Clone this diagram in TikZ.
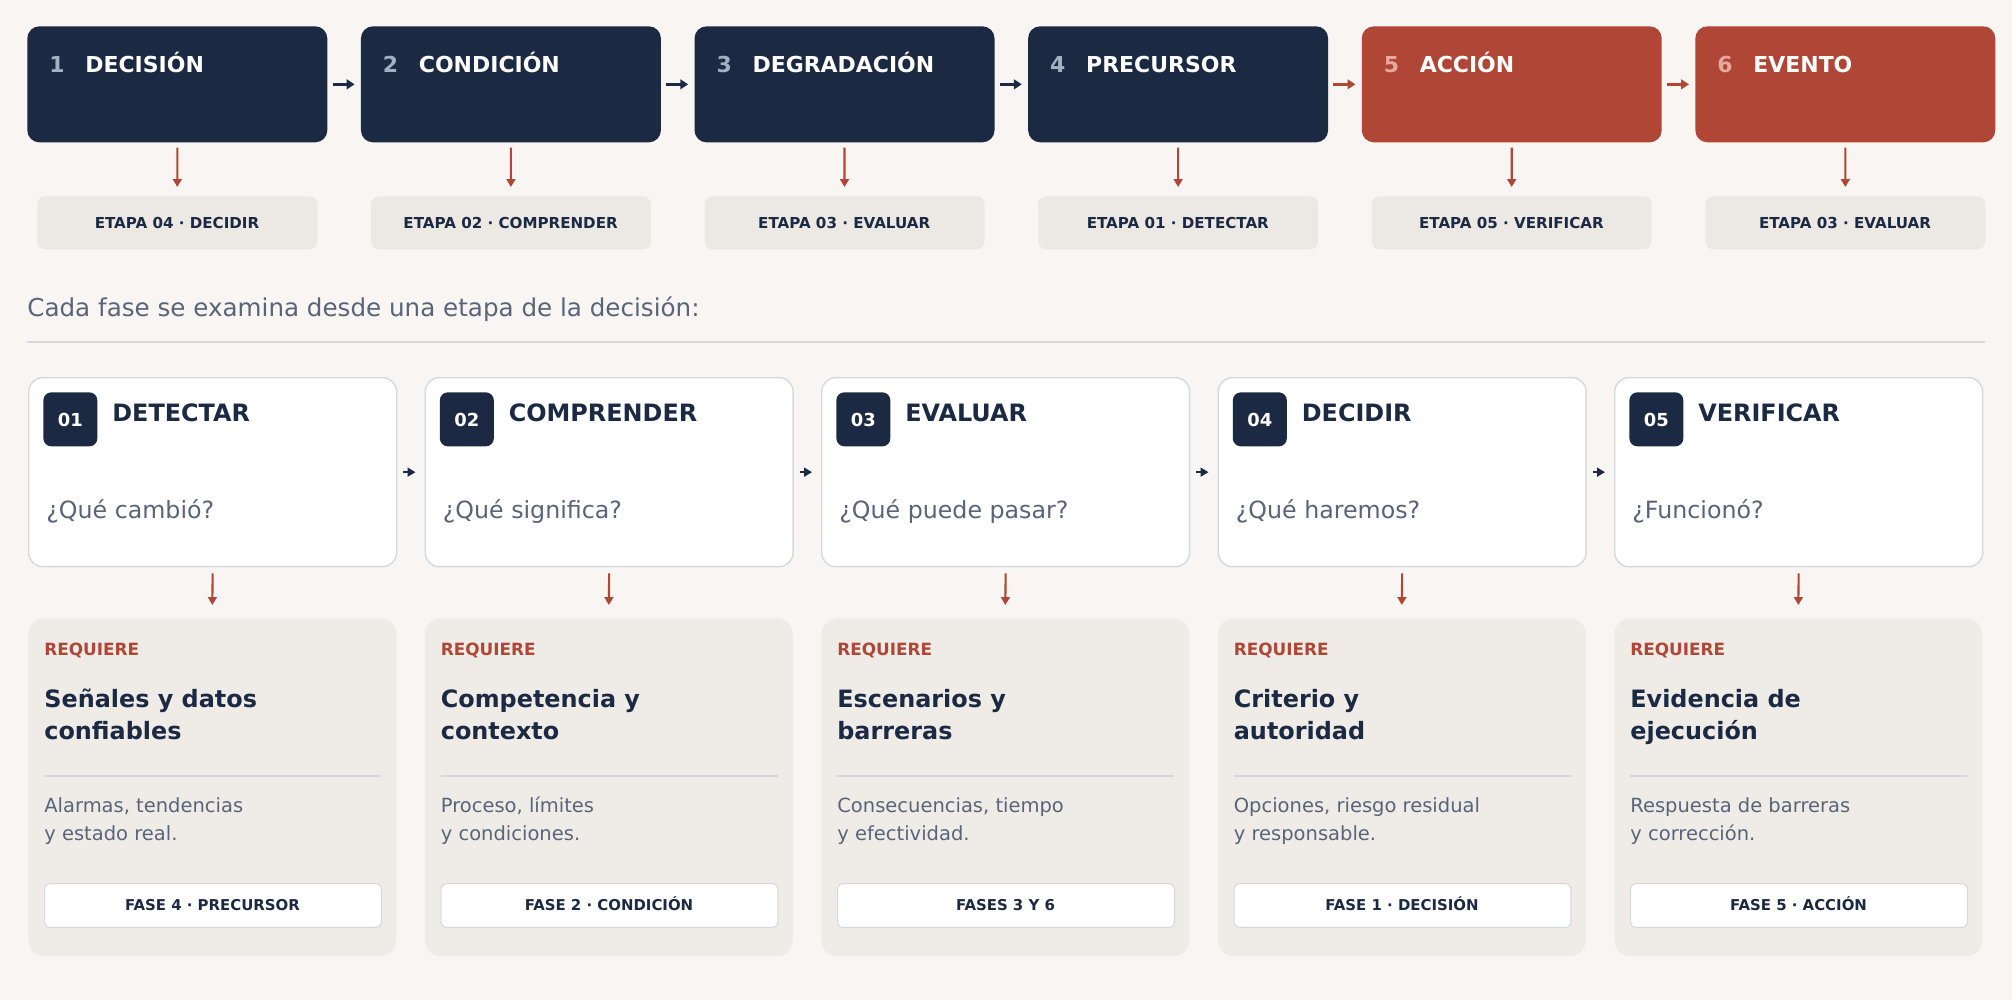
\documentclass[tikz,border=0pt]{standalone}
\usepackage{fontspec}
\setmainfont{DejaVu Sans}
\usepackage{tikz}
\usetikzlibrary{arrows.meta}

\definecolor{ozadje}{HTML}{F8F5F2}
\definecolor{temna}{HTML}{1B2942}
\definecolor{rdeca}{HTML}{AF4636}
\definecolor{siva}{HTML}{5A6478}
\definecolor{svetla}{HTML}{ECE9E5}
\definecolor{kartica}{HTML}{EFECE8}
\definecolor{crta}{HTML}{D5D9DF}
\definecolor{stmodra}{HTML}{A3B0C2}
\definecolor{strdeca}{HTML}{E6A99D}

\tikzset{
  faza/.style={rectangle, rounded corners=0.24cm, minimum width=6cm, minimum height=2.32cm, anchor=north west, inner sep=0},
  etapa/.style={rectangle, rounded corners=0.16cm, fill=svetla, minimum width=5.6cm, minimum height=1.06cm, anchor=north west, inner sep=0},
  besedilo/.style={inner sep=0, anchor=base west},
  kvadrat/.style={rectangle, rounded corners=0.28cm, fill=white, draw=crta, line width=0.8pt, minimum width=7.36cm, minimum height=3.78cm, anchor=north west, inner sep=0},
  znacka/.style={rectangle, rounded corners=0.16cm, fill=temna, minimum size=1.08cm, anchor=north west, inner sep=0},
  podlaga/.style={rectangle, rounded corners=0.32cm, fill=kartica, minimum width=7.36cm, minimum height=6.76cm, anchor=north west, inner sep=0},
  oznaka/.style={rectangle, rounded corners=0.12cm, fill=white, draw=crta, line width=0.6pt, minimum width=6.74cm, minimum height=0.88cm, anchor=north west, inner sep=0},
  puscica/.style={line width=1.4pt, -{Triangle[length=4.5pt, width=5.5pt]}},
  navzdol/.style={rdeca, line width=1.2pt, -{Triangle[length=4.5pt, width=5pt]}},
  mala/.style={temna, line width=1.2pt, -{Triangle[length=4.5pt, width=5pt]}}
}

\begin{document}
\begin{tikzpicture}[x=0.02cm, y=-0.02cm]

  \fill[ozadje] (0,0) rectangle (2012,1000); %OZADJE

  % faze zgoraj
  \foreach \i/\ime/\barva/\stb/\et in {1/DECISIÓN/temna/stmodra/ETAPA 04 · DECIDIR,
      2/CONDICIÓN/temna/stmodra/ETAPA 02 · COMPRENDER,
      3/DEGRADACIÓN/temna/stmodra/ETAPA 03 · EVALUAR,
      4/PRECURSOR/temna/stmodra/ETAPA 01 · DETECTAR,
      5/ACCIÓN/rdeca/strdeca/ETAPA 05 · VERIFICAR,
      6/EVENTO/rdeca/strdeca/ETAPA 03 · EVALUAR}
  {
    \pgfmathsetmacro{\x}{27+333.6*(\i-1)}
    \node[faza, fill=\barva] (f\i) at (\x,26) {};
    \node[besedilo, text=\stb, font=\fontsize{12.5}{15}\selectfont\bfseries] (fn\i) at (\x+22,72.5) {\i};
    \node[besedilo, text=white, font=\fontsize{12.5}{15}\selectfont\bfseries] (ft\i) at (\x+58,72.5) {\ime};
    \node[etapa] (e\i) at (\x+10,196) {};
    \node[inner sep=0, anchor=base, text=temna, font=\fontsize{8.6}{10}\selectfont\bfseries] (et\i) at (\x+150,228.5) {\et};
    \draw[navzdol] ([yshift=-0.1cm]f\i.south) -- ([yshift=0.18cm]e\i.north); %DOL
  }

  \draw[puscica, temna] ([xshift=0.1cm]f1.east) -- ([xshift=-0.12cm]f2.west);
  \draw[puscica, temna] ([xshift=0.1cm]f2.east) -- ([xshift=-0.12cm]f3.west);
  \draw[puscica, temna] ([xshift=0.1cm]f3.east) -- ([xshift=-0.12cm]f4.west);
  \draw[puscica, rdeca] ([xshift=0.1cm]f4.east) -- ([xshift=-0.12cm]f5.west);
  \draw[puscica, rdeca] ([xshift=0.1cm]f5.east) -- ([xshift=-0.12cm]f6.west);

  \node[besedilo, text=siva, font=\fontsize{14}{17}\selectfont] (uvod) at (27,316.5) {Cada fase se examina desde una etapa de la decisión:};
  \draw[crta, line width=1.1pt] (27,342) -- (1985,342); %CRTA

  % etape spodaj
  \foreach \i/\st/\ime/\vpr/\za/\zb/\oa/\ob/\fz in {
      1/01/DETECTAR/¿Qué cambió?/Señales y datos/confiables/{Alarmas, tendencias}/y estado real./FASE 4 · PRECURSOR,
      2/02/COMPRENDER/¿Qué significa?/Competencia y/contexto/{Proceso, límites}/y condiciones./FASE 2 · CONDICIÓN,
      3/03/EVALUAR/¿Qué puede pasar?/Escenarios y/barreras/{Consecuencias, tiempo}/y efectividad./FASES 3 Y 6,
      4/04/DECIDIR/¿Qué haremos?/Criterio y/autoridad/{Opciones, riesgo residual}/y responsable./FASE 1 · DECISIÓN,
      5/05/VERIFICAR/¿Funcionó?/Evidencia de/ejecución/{Respuesta de barreras}/y corrección./FASE 5 · ACCIÓN}
  {
    \pgfmathsetmacro{\x}{28+396.5*(\i-1)}
    \node[kvadrat] (k\i) at (\x,377) {};
    \node[znacka] (z\i) at (\x+15,392) {};
    \node[inner sep=0, text=white, font=\fontsize{10.2}{12}\selectfont\bfseries] (zt\i) at ([yshift=-0.02cm]z\i.center) {\st};
    \node[besedilo, text=temna, font=\fontsize{13.6}{16}\selectfont\bfseries] (n\i) at (\x+84,421.5) {\ime};
    \node[besedilo, text=siva, font=\fontsize{13.5}{16}\selectfont] (q\i) at (\x+18,518) {\vpr};
    \node[podlaga] (s\i) at (\x,618) {};
    \node[besedilo, text=rdeca, font=\fontsize{9.6}{12}\selectfont\bfseries] (r\i) at (\x+16,655) {REQUIERE};
    \node[besedilo, text=temna, font=\fontsize{13.6}{16}\selectfont\bfseries] (ta\i) at (\x+16,707) {\za};
    \node[besedilo, text=temna, font=\fontsize{13.6}{16}\selectfont\bfseries] (tb\i) at (\x+16,739) {\zb};
    \draw[crta, line width=1.1pt] (\x+16,776) -- (\x+353,776); %LOCILO
    \node[besedilo, text=siva, font=\fontsize{11.1}{13}\selectfont] (oa\i) at (\x+16,812) {\oa};
    \node[besedilo, text=siva, font=\fontsize{11.1}{13}\selectfont] (ob\i) at (\x+16,840) {\ob};
    \node[oznaka] (p\i) at (\x+16,883) {};
    \node[inner sep=0, anchor=base, text=temna, font=\fontsize{8.5}{10}\selectfont\bfseries] (pt\i) at (\x+184.5,910.5) {\fz};
    \draw[navzdol] ([yshift=-0.12cm]k\i.south) -- ([yshift=0.26cm]s\i.north); %DOL
  }

  \foreach \i/\j in {1/2,2/3,3/4,4/5}
    \draw[mala] ([xshift=0.12cm]k\i.east) -- ([xshift=-0.18cm]k\j.west);

\end{tikzpicture}
\end{document}
